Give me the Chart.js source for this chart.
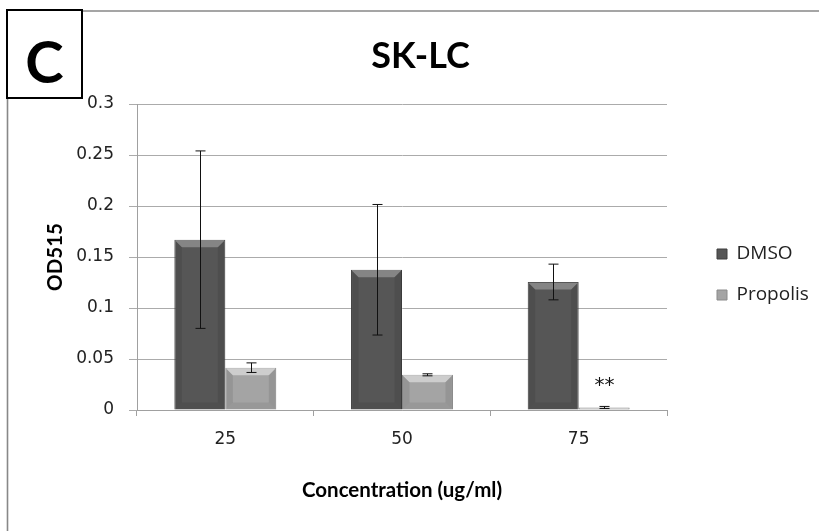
<!DOCTYPE html>
<html><head><meta charset="utf-8">
<script src="https://cdn.jsdelivr.net/npm/chart.js@4.4.1/dist/chart.umd.min.js"></script>
<style>html,body{margin:0;padding:0;background:#fff;} #wrap{width:819px;height:531px;}</style>
</head><body><div id="wrap"><canvas id="c" width="819" height="531"></canvas></div>
<script>
const categories = ['25', '50', '75'];
const seriesNames = ['DMSO', 'Propolis'];
const dmsoValues = [0.167, 0.1375, 0.1255];
const dmsoErrors = [0.087, 0.064, 0.0175];
const propolisValues = [0.0415, 0.0345, 0.0025];
const propolisErrors = [0.0047, 0.001, 0.001];
const significance = ['', '', '**'];
const yTickLabels = ['0', '0.05', '0.1', '0.15', '0.2', '0.25', '0.3'];
const chartTitle = 'SK-LC';
const panelLabel = 'C';
const xTitle = 'Concentration (ug/ml)';
const yTitle = 'OD515';

const errorSets = [dmsoErrors, propolisErrors];

// legend geometry: measure the widest label so the legend lands where the reference has it
const legendFont = { family: 'Open Sans', size: 19 };
const legendPad = 22, legendBox = 10;
const mctx = document.createElement('canvas').getContext('2d');
mctx.font = legendFont.size + 'px "' + legendFont.family + '"';
const maxText = Math.max(...seriesNames.map(s => mctx.measureText(s).width));
const legendW = legendPad + legendBox + legendFont.size / 2 + maxText + 10;
const wantLegendLeft = 695, plotRight = 667;
let padRight = 819 - wantLegendLeft - legendW;
if (padRight < 0) padRight = 0;
const spacerW = Math.max(0, (819 - padRight - legendW) - plotRight);

const decorPlugin = {
  id: 'decor',
  beforeDraw(chart) {
    const ctx = chart.ctx;
    ctx.save();
    ctx.fillStyle = '#fff';
    ctx.fillRect(0, 0, chart.width, chart.height);
    ctx.strokeStyle = '#888';
    ctx.lineWidth = 1.6;
    ctx.beginPath();
    ctx.moveTo(7.5, chart.height);
    ctx.lineTo(7.5, 11);
    ctx.lineTo(chart.width, 11);
    ctx.stroke();
    ctx.restore();
  },
  afterDraw(chart) {
    const ctx = chart.ctx;
    ctx.save();
    ctx.fillStyle = '#fff';
    ctx.fillRect(7, 10, 75, 88);
    ctx.strokeStyle = '#000';
    ctx.lineWidth = 2;
    ctx.strokeRect(7, 10, 75, 88);
    ctx.fillStyle = '#000';
    ctx.textAlign = 'center';
    ctx.textBaseline = 'alphabetic';
    ctx.font = 'bold 58px Lato';
    ctx.fillText(panelLabel, 44.5, 83);
    ctx.font = 'bold 36px Lato';
    ctx.textBaseline = 'middle';
    ctx.fillText(chartTitle, 420.5, 56);
    ctx.restore();
  }
};

function poly(ctx, pts, fill) {
  ctx.beginPath();
  ctx.moveTo(pts[0][0], pts[0][1]);
  for (let i = 1; i < pts.length; i++) ctx.lineTo(pts[i][0], pts[i][1]);
  ctx.closePath();
  ctx.fillStyle = fill;
  ctx.fill();
}

const bevelPlugin = {
  id: 'bevel',
  afterDatasetsDraw(chart) {
    const ctx = chart.ctx;
    ctx.save();
    chart.data.datasets.forEach((ds, di) => {
      const meta = chart.getDatasetMeta(di);
      const topLight = di === 0 ? 'rgba(255,255,255,0.28)' : 'rgba(255,255,255,0.45)';
      meta.data.forEach(el => {
        const p = el.getProps(['x', 'y', 'base', 'width'], true);
        const l = p.x - p.width / 2 + 0.5, r = p.x + p.width / 2 - 0.5;
        const t = Math.min(p.y, p.base) + 0.5, b = Math.max(p.y, p.base);
        const h = b - t;
        const d = Math.min(7, h / 2, p.width / 4);
        if (h <= 0) return;
        poly(ctx, [[l, t], [r, t], [r - d, t + d], [l + d, t + d]], topLight);
        poly(ctx, [[l, t], [l + d, t + d], [l + d, b - d], [l, b]], 'rgba(0,0,0,0.09)');
        poly(ctx, [[r, t], [r, b], [r - d, b - d], [r - d, t + d]], 'rgba(0,0,0,0.09)');
        poly(ctx, [[l, b], [r, b], [r - d, b - d], [l + d, b - d]], 'rgba(0,0,0,0.07)');
      });
    });
    ctx.restore();
  }
};

const errorPlugin = {
  id: 'errorBars',
  afterDatasetsDraw(chart) {
    const ctx = chart.ctx;
    const ys = chart.scales.y;
    ctx.save();
    ctx.strokeStyle = '#111';
    ctx.lineWidth = 1;
    chart.data.datasets.forEach((ds, di) => {
      const meta = chart.getDatasetMeta(di);
      meta.data.forEach((el, j) => {
        const v = ds.data[j], e = errorSets[di][j];
        const x = Math.round(el.x) + 0.5;
        const yt = ys.getPixelForValue(v + e), yb = ys.getPixelForValue(v - e);
        ctx.beginPath();
        ctx.moveTo(x, yt); ctx.lineTo(x, yb);
        ctx.moveTo(x - 5, yt); ctx.lineTo(x + 5, yt);
        ctx.moveTo(x - 5, yb); ctx.lineTo(x + 5, yb);
        ctx.stroke();
        if (di === 1 && significance[j]) {
          ctx.fillStyle = '#111';
          ctx.font = '20px "DejaVu Sans"';
          ctx.textAlign = 'center';
          ctx.textBaseline = 'alphabetic';
          ctx.fillText(significance[j], x, yt - 15);
        }
      });
    });
    ctx.restore();
  }
};

new Chart(document.getElementById('c'), {
  type: 'bar',
  data: {
    labels: categories,
    datasets: [
      { label: seriesNames[0], data: dmsoValues, yAxisID: 'y',
        backgroundColor: '#565656', borderColor: '#3e3e3e', borderWidth: 1 },
      { label: seriesNames[1], data: propolisValues, yAxisID: 'y',
        backgroundColor: '#a4a4a4', borderColor: '#8a8a8a', borderWidth: 1 }
    ]
  },
  options: {
    responsive: false,
    animation: false,
    devicePixelRatio: 1,
    datasets: { bar: { categoryPercentage: 0.577, barPercentage: 1.0 } },
    layout: { padding: { left: 0, right: padRight, top: 104, bottom: 0 } },
    plugins: {
      title: { display: false },
      tooltip: { enabled: false },
      legend: {
        position: 'right', align: 'start', fullSize: false,
        title: { display: true, text: ' ', font: { size: 10 }, padding: { top: 53.25, bottom: 53.25 } },
        labels: { boxWidth: legendBox, boxHeight: 10, padding: legendPad, color: '#222', font: legendFont }
      }
    },
    scales: {
      x: {
        grid: { display: true, drawOnChartArea: false, drawTicks: true, tickLength: 6, color: '#a0a0a0', offset: true },
        border: { display: true, color: '#a0a0a0' },
        ticks: { padding: 13.8, color: '#222', font: { family: 'DejaVu Sans', size: 17 } },
        title: { display: true, text: xTitle, color: '#000',
          font: { family: 'Lato', weight: 'bold', size: 20.5 }, padding: { top: 0, bottom: 28 } },
        afterFit: s => { s.height = 121; }
      },
      y: {
        min: 0, max: 0.3,
        grid: { color: '#ababab', tickLength: 8, drawTicks: true },
        border: { display: true, color: '#a0a0a0' },
        ticks: { stepSize: 0.05, padding: 15, color: '#222', font: { family: 'DejaVu Sans', size: 17 },
          callback: (v, i) => yTickLabels[i] },
        title: { display: true, text: yTitle, color: '#000',
          font: { family: 'Lato', weight: 'bold', size: 20.5 }, padding: { top: 42.7, bottom: 0 } },
        afterFit: s => { s.width = 137; }
      },
      yr: {
        type: 'linear', position: 'right', display: true,
        grid: { display: false }, ticks: { display: false }, border: { display: false },
        afterFit: s => { s.width = spacerW; }
      }
    }
  },
  plugins: [decorPlugin, bevelPlugin, errorPlugin]
});
</script>
</body></html>
